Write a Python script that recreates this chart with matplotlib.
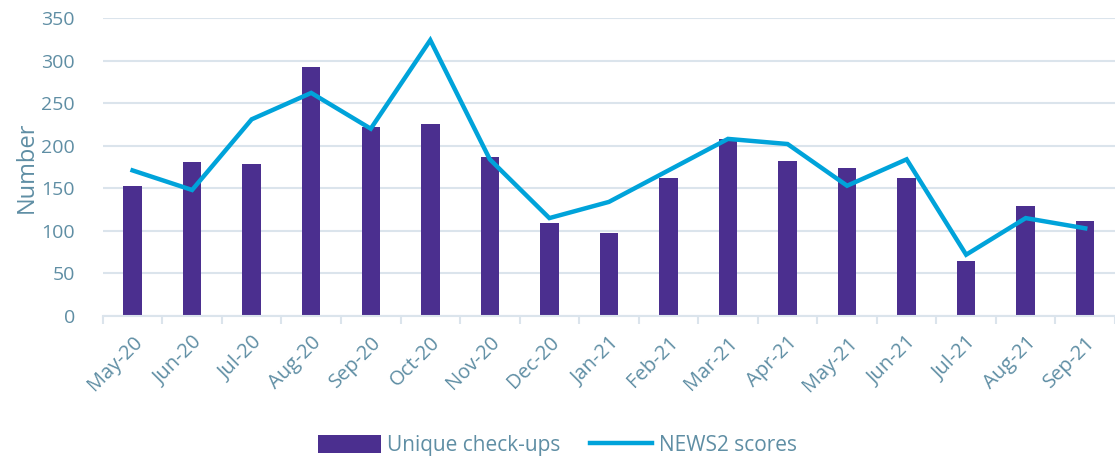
import numpy as np
import matplotlib.pyplot as plt

months = ['May-20', 'Jun-20', 'Jul-20', 'Aug-20', 'Sep-20', 'Oct-20', 'Nov-20',
          'Dec-20', 'Jan-21', 'Feb-21', 'Mar-21', 'Apr-21', 'May-21', 'Jun-21',
          'Jul-21', 'Aug-21', 'Sep-21']
checkups = [153, 181, 179, 293, 222, 225, 187, 109, 98, 162, 208, 182, 174, 162, 65, 129, 111]
news2 = [171, 148, 231, 262, 220, 324, 184, 115, 134, 171, 208, 202, 153, 184, 72, 115, 103]
yticks = [0, 50, 100, 150, 200, 250, 300, 350]

text_col = '#5f8ea4'
grid_col = '#dbe4ec'
bar_col = '#4b2f8f'
line_col = '#00a3da'

plt.rcParams['font.family'] = ['Open Sans', 'DejaVu Sans']

fig = plt.figure(figsize=(11.15, 4.61), dpi=100)
ax = fig.add_axes([0.0922, 0.3145, 0.9078, 0.6465])

x = np.arange(len(months))
bars = ax.bar(x, checkups, width=0.31, color=bar_col, label='Unique check-ups', zorder=2)
line, = ax.plot(x, news2, color=line_col, lw=3.2, label='NEWS2 scores', zorder=3,
                solid_joinstyle='miter')

ax.set_xlim(-0.5, len(months) - 0.5)
ax.set_ylim(0, 350)
ax.set_yticks(yticks)
ax.yaxis.grid(True, color=grid_col, lw=1.5, zorder=0)
ax.set_axisbelow(True)

for s in ['top', 'right', 'left']:
    ax.spines[s].set_visible(False)
ax.spines['bottom'].set_color(grid_col)
ax.spines['bottom'].set_linewidth(1.5)

ax.set_xticks(x)
ax.set_xticklabels(months, rotation=45, ha='right', rotation_mode='anchor',
                   fontsize=14.5, color=text_col)
ax.set_xticks(np.arange(len(months) + 1) - 0.5, minor=True)
ax.tick_params(axis='x', which='major', length=0, pad=12)
ax.tick_params(axis='x', which='minor', length=6, width=1.5, color=grid_col)
ax.tick_params(axis='y', length=0, labelsize=14, labelcolor=text_col, pad=20)
ax.set_ylabel('Number', fontsize=17, color=text_col, labelpad=2)

fig.legend([bars, line], ['Unique check-ups', 'NEWS2 scores'],
           loc='lower center', bbox_to_anchor=(0.5, -0.03), ncol=2, frameon=False,
           fontsize=15, labelcolor=text_col, handlelength=3.0, handleheight=0.9,
           handletextpad=0.3, columnspacing=1.4)

fig.savefig('out.png', dpi=100)
